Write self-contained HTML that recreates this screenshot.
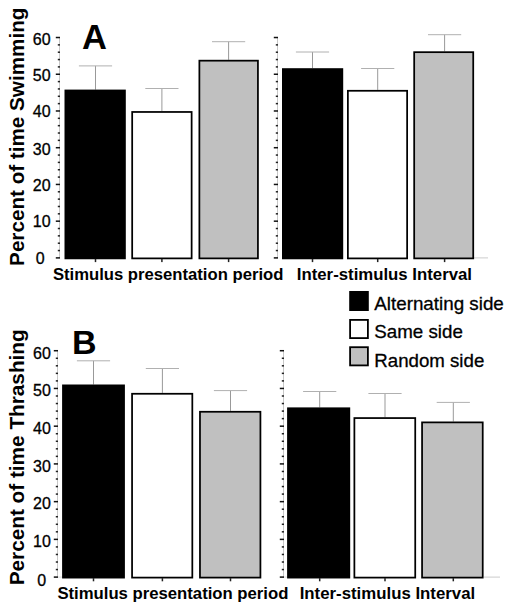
<!DOCTYPE html>
<html><head><meta charset="utf-8"><style>
html,body{margin:0;padding:0;background:#fff;}
svg{display:block;}
text{font-family:"Liberation Sans", sans-serif;fill:#000;}
.r{stroke:#000;stroke-width:0.3px;}
</style></head><body>
<svg width="510" height="609" viewBox="0 0 510 609">
<rect width="510" height="609" fill="#fff"/>
<line x1="474" y1="257.90" x2="488" y2="257.90" stroke="#ccc" stroke-width="1"/>
<line x1="484" y1="577.10" x2="500" y2="577.10" stroke="#ccc" stroke-width="1"/>
<line x1="283" y1="577.10" x2="288" y2="577.10" stroke="#ddd" stroke-width="1"/>
<line x1="58" y1="577.10" x2="63" y2="577.10" stroke="#ddd" stroke-width="1"/>
<line x1="59.5" y1="37.52" x2="59.5" y2="257.90" stroke="#c8c8c8" stroke-width="1"/>
<rect x="55.80" y="257.15" width="4.2" height="1.5" fill="#111"/>
<rect x="57.80" y="249.80" width="2.2" height="1.5" fill="#222"/>
<rect x="57.80" y="242.46" width="2.2" height="1.5" fill="#222"/>
<rect x="57.80" y="235.11" width="2.2" height="1.5" fill="#222"/>
<rect x="57.80" y="227.77" width="2.2" height="1.5" fill="#222"/>
<rect x="55.80" y="220.42" width="4.2" height="1.5" fill="#111"/>
<rect x="57.80" y="213.07" width="2.2" height="1.5" fill="#222"/>
<rect x="57.80" y="205.73" width="2.2" height="1.5" fill="#222"/>
<rect x="57.80" y="198.38" width="2.2" height="1.5" fill="#222"/>
<rect x="57.80" y="191.04" width="2.2" height="1.5" fill="#222"/>
<rect x="55.80" y="183.69" width="4.2" height="1.5" fill="#111"/>
<rect x="57.80" y="176.34" width="2.2" height="1.5" fill="#222"/>
<rect x="57.80" y="169.00" width="2.2" height="1.5" fill="#222"/>
<rect x="57.80" y="161.65" width="2.2" height="1.5" fill="#222"/>
<rect x="57.80" y="154.31" width="2.2" height="1.5" fill="#222"/>
<rect x="55.80" y="146.96" width="4.2" height="1.5" fill="#111"/>
<rect x="57.80" y="139.61" width="2.2" height="1.5" fill="#222"/>
<rect x="57.80" y="132.27" width="2.2" height="1.5" fill="#222"/>
<rect x="57.80" y="124.92" width="2.2" height="1.5" fill="#222"/>
<rect x="57.80" y="117.58" width="2.2" height="1.5" fill="#222"/>
<rect x="55.80" y="110.23" width="4.2" height="1.5" fill="#111"/>
<rect x="57.80" y="102.88" width="2.2" height="1.5" fill="#222"/>
<rect x="57.80" y="95.54" width="2.2" height="1.5" fill="#222"/>
<rect x="57.80" y="88.19" width="2.2" height="1.5" fill="#222"/>
<rect x="57.80" y="80.85" width="2.2" height="1.5" fill="#222"/>
<rect x="55.80" y="73.50" width="4.2" height="1.5" fill="#111"/>
<rect x="57.80" y="66.15" width="2.2" height="1.5" fill="#222"/>
<rect x="57.80" y="58.81" width="2.2" height="1.5" fill="#222"/>
<rect x="57.80" y="51.46" width="2.2" height="1.5" fill="#222"/>
<rect x="57.80" y="44.12" width="2.2" height="1.5" fill="#222"/>
<rect x="55.80" y="36.77" width="4.2" height="1.5" fill="#111"/>
<line x1="277.5" y1="37.52" x2="277.5" y2="257.90" stroke="#c8c8c8" stroke-width="1"/>
<rect x="273.80" y="257.15" width="4.2" height="1.5" fill="#111"/>
<rect x="275.80" y="249.80" width="2.2" height="1.5" fill="#222"/>
<rect x="275.80" y="242.46" width="2.2" height="1.5" fill="#222"/>
<rect x="275.80" y="235.11" width="2.2" height="1.5" fill="#222"/>
<rect x="275.80" y="227.77" width="2.2" height="1.5" fill="#222"/>
<rect x="273.80" y="220.42" width="4.2" height="1.5" fill="#111"/>
<rect x="275.80" y="213.07" width="2.2" height="1.5" fill="#222"/>
<rect x="275.80" y="205.73" width="2.2" height="1.5" fill="#222"/>
<rect x="275.80" y="198.38" width="2.2" height="1.5" fill="#222"/>
<rect x="275.80" y="191.04" width="2.2" height="1.5" fill="#222"/>
<rect x="273.80" y="183.69" width="4.2" height="1.5" fill="#111"/>
<rect x="275.80" y="176.34" width="2.2" height="1.5" fill="#222"/>
<rect x="275.80" y="169.00" width="2.2" height="1.5" fill="#222"/>
<rect x="275.80" y="161.65" width="2.2" height="1.5" fill="#222"/>
<rect x="275.80" y="154.31" width="2.2" height="1.5" fill="#222"/>
<rect x="273.80" y="146.96" width="4.2" height="1.5" fill="#111"/>
<rect x="275.80" y="139.61" width="2.2" height="1.5" fill="#222"/>
<rect x="275.80" y="132.27" width="2.2" height="1.5" fill="#222"/>
<rect x="275.80" y="124.92" width="2.2" height="1.5" fill="#222"/>
<rect x="275.80" y="117.58" width="2.2" height="1.5" fill="#222"/>
<rect x="273.80" y="110.23" width="4.2" height="1.5" fill="#111"/>
<rect x="275.80" y="102.88" width="2.2" height="1.5" fill="#222"/>
<rect x="275.80" y="95.54" width="2.2" height="1.5" fill="#222"/>
<rect x="275.80" y="88.19" width="2.2" height="1.5" fill="#222"/>
<rect x="275.80" y="80.85" width="2.2" height="1.5" fill="#222"/>
<rect x="273.80" y="73.50" width="4.2" height="1.5" fill="#111"/>
<rect x="275.80" y="66.15" width="2.2" height="1.5" fill="#222"/>
<rect x="275.80" y="58.81" width="2.2" height="1.5" fill="#222"/>
<rect x="275.80" y="51.46" width="2.2" height="1.5" fill="#222"/>
<rect x="275.80" y="44.12" width="2.2" height="1.5" fill="#222"/>
<rect x="273.80" y="36.77" width="4.2" height="1.5" fill="#111"/>
<line x1="57.5" y1="350.72" x2="57.5" y2="577.10" stroke="#c8c8c8" stroke-width="1"/>
<rect x="53.80" y="576.35" width="4.2" height="1.5" fill="#111"/>
<rect x="55.80" y="568.80" width="2.2" height="1.5" fill="#222"/>
<rect x="55.80" y="561.26" width="2.2" height="1.5" fill="#222"/>
<rect x="55.80" y="553.71" width="2.2" height="1.5" fill="#222"/>
<rect x="55.80" y="546.17" width="2.2" height="1.5" fill="#222"/>
<rect x="53.80" y="538.62" width="4.2" height="1.5" fill="#111"/>
<rect x="55.80" y="531.07" width="2.2" height="1.5" fill="#222"/>
<rect x="55.80" y="523.53" width="2.2" height="1.5" fill="#222"/>
<rect x="55.80" y="515.98" width="2.2" height="1.5" fill="#222"/>
<rect x="55.80" y="508.44" width="2.2" height="1.5" fill="#222"/>
<rect x="53.80" y="500.89" width="4.2" height="1.5" fill="#111"/>
<rect x="55.80" y="493.34" width="2.2" height="1.5" fill="#222"/>
<rect x="55.80" y="485.80" width="2.2" height="1.5" fill="#222"/>
<rect x="55.80" y="478.25" width="2.2" height="1.5" fill="#222"/>
<rect x="55.80" y="470.71" width="2.2" height="1.5" fill="#222"/>
<rect x="53.80" y="463.16" width="4.2" height="1.5" fill="#111"/>
<rect x="55.80" y="455.61" width="2.2" height="1.5" fill="#222"/>
<rect x="55.80" y="448.07" width="2.2" height="1.5" fill="#222"/>
<rect x="55.80" y="440.52" width="2.2" height="1.5" fill="#222"/>
<rect x="55.80" y="432.98" width="2.2" height="1.5" fill="#222"/>
<rect x="53.80" y="425.43" width="4.2" height="1.5" fill="#111"/>
<rect x="55.80" y="417.88" width="2.2" height="1.5" fill="#222"/>
<rect x="55.80" y="410.34" width="2.2" height="1.5" fill="#222"/>
<rect x="55.80" y="402.79" width="2.2" height="1.5" fill="#222"/>
<rect x="55.80" y="395.25" width="2.2" height="1.5" fill="#222"/>
<rect x="53.80" y="387.70" width="4.2" height="1.5" fill="#111"/>
<rect x="55.80" y="380.15" width="2.2" height="1.5" fill="#222"/>
<rect x="55.80" y="372.61" width="2.2" height="1.5" fill="#222"/>
<rect x="55.80" y="365.06" width="2.2" height="1.5" fill="#222"/>
<rect x="55.80" y="357.52" width="2.2" height="1.5" fill="#222"/>
<rect x="53.80" y="349.97" width="4.2" height="1.5" fill="#111"/>
<line x1="283.5" y1="350.72" x2="283.5" y2="577.10" stroke="#c8c8c8" stroke-width="1"/>
<rect x="279.80" y="576.35" width="4.2" height="1.5" fill="#111"/>
<rect x="281.80" y="568.80" width="2.2" height="1.5" fill="#222"/>
<rect x="281.80" y="561.26" width="2.2" height="1.5" fill="#222"/>
<rect x="281.80" y="553.71" width="2.2" height="1.5" fill="#222"/>
<rect x="281.80" y="546.17" width="2.2" height="1.5" fill="#222"/>
<rect x="279.80" y="538.62" width="4.2" height="1.5" fill="#111"/>
<rect x="281.80" y="531.07" width="2.2" height="1.5" fill="#222"/>
<rect x="281.80" y="523.53" width="2.2" height="1.5" fill="#222"/>
<rect x="281.80" y="515.98" width="2.2" height="1.5" fill="#222"/>
<rect x="281.80" y="508.44" width="2.2" height="1.5" fill="#222"/>
<rect x="279.80" y="500.89" width="4.2" height="1.5" fill="#111"/>
<rect x="281.80" y="493.34" width="2.2" height="1.5" fill="#222"/>
<rect x="281.80" y="485.80" width="2.2" height="1.5" fill="#222"/>
<rect x="281.80" y="478.25" width="2.2" height="1.5" fill="#222"/>
<rect x="281.80" y="470.71" width="2.2" height="1.5" fill="#222"/>
<rect x="279.80" y="463.16" width="4.2" height="1.5" fill="#111"/>
<rect x="281.80" y="455.61" width="2.2" height="1.5" fill="#222"/>
<rect x="281.80" y="448.07" width="2.2" height="1.5" fill="#222"/>
<rect x="281.80" y="440.52" width="2.2" height="1.5" fill="#222"/>
<rect x="281.80" y="432.98" width="2.2" height="1.5" fill="#222"/>
<rect x="279.80" y="425.43" width="4.2" height="1.5" fill="#111"/>
<rect x="281.80" y="417.88" width="2.2" height="1.5" fill="#222"/>
<rect x="281.80" y="410.34" width="2.2" height="1.5" fill="#222"/>
<rect x="281.80" y="402.79" width="2.2" height="1.5" fill="#222"/>
<rect x="281.80" y="395.25" width="2.2" height="1.5" fill="#222"/>
<rect x="279.80" y="387.70" width="4.2" height="1.5" fill="#111"/>
<rect x="281.80" y="380.15" width="2.2" height="1.5" fill="#222"/>
<rect x="281.80" y="372.61" width="2.2" height="1.5" fill="#222"/>
<rect x="281.80" y="365.06" width="2.2" height="1.5" fill="#222"/>
<rect x="281.80" y="357.52" width="2.2" height="1.5" fill="#222"/>
<rect x="279.80" y="349.97" width="4.2" height="1.5" fill="#111"/>
<line x1="95.5" y1="65.90" x2="95.5" y2="89.60" stroke="#999" stroke-width="1"/>
<line x1="78.90" y1="65.90" x2="112.10" y2="65.90" stroke="#b0b0b0" stroke-width="1"/>
<rect x="65.38" y="90.47" width="59.55" height="167.92" fill="#000" stroke="#000" stroke-width="1.75"/>
<rect x="94.75" y="258.90" width="1.5" height="3.2" fill="#222"/>
<line x1="161.9" y1="88.50" x2="161.9" y2="111.10" stroke="#999" stroke-width="1"/>
<line x1="145.30" y1="88.50" x2="178.50" y2="88.50" stroke="#b0b0b0" stroke-width="1"/>
<rect x="132.18" y="111.97" width="59.45" height="146.42" fill="#fff" stroke="#000" stroke-width="1.75"/>
<rect x="161.15" y="258.90" width="1.5" height="3.2" fill="#222"/>
<line x1="228.6" y1="41.70" x2="228.6" y2="59.80" stroke="#999" stroke-width="1"/>
<line x1="212.00" y1="41.70" x2="245.20" y2="41.70" stroke="#b0b0b0" stroke-width="1"/>
<rect x="199.38" y="60.67" width="58.55" height="197.72" fill="#c0c0c0" stroke="#000" stroke-width="1.75"/>
<rect x="227.85" y="258.90" width="1.5" height="3.2" fill="#222"/>
<line x1="312.5" y1="52.00" x2="312.5" y2="68.20" stroke="#999" stroke-width="1"/>
<line x1="295.90" y1="52.00" x2="329.10" y2="52.00" stroke="#b0b0b0" stroke-width="1"/>
<rect x="282.88" y="69.08" width="59.45" height="189.32" fill="#000" stroke="#000" stroke-width="1.75"/>
<rect x="311.75" y="258.90" width="1.5" height="3.2" fill="#222"/>
<line x1="377.7" y1="68.50" x2="377.7" y2="89.90" stroke="#999" stroke-width="1"/>
<line x1="361.10" y1="68.50" x2="394.30" y2="68.50" stroke="#b0b0b0" stroke-width="1"/>
<rect x="347.88" y="90.78" width="59.25" height="167.62" fill="#fff" stroke="#000" stroke-width="1.75"/>
<rect x="376.95" y="258.90" width="1.5" height="3.2" fill="#222"/>
<line x1="444.6" y1="34.70" x2="444.6" y2="51.30" stroke="#999" stroke-width="1"/>
<line x1="428.00" y1="34.70" x2="461.20" y2="34.70" stroke="#b0b0b0" stroke-width="1"/>
<rect x="414.18" y="52.17" width="59.05" height="206.22" fill="#c0c0c0" stroke="#000" stroke-width="1.75"/>
<rect x="443.85" y="258.90" width="1.5" height="3.2" fill="#222"/>
<line x1="93.5" y1="360.80" x2="93.5" y2="384.50" stroke="#999" stroke-width="1"/>
<line x1="76.90" y1="360.80" x2="110.10" y2="360.80" stroke="#b0b0b0" stroke-width="1"/>
<rect x="62.98" y="385.38" width="61.05" height="192.23" fill="#000" stroke="#000" stroke-width="1.75"/>
<rect x="92.75" y="578.10" width="1.5" height="3.2" fill="#222"/>
<line x1="162.4" y1="368.50" x2="162.4" y2="392.90" stroke="#999" stroke-width="1"/>
<line x1="145.80" y1="368.50" x2="179.00" y2="368.50" stroke="#b0b0b0" stroke-width="1"/>
<rect x="132.07" y="393.77" width="60.25" height="183.83" fill="#fff" stroke="#000" stroke-width="1.75"/>
<rect x="161.65" y="578.10" width="1.5" height="3.2" fill="#222"/>
<line x1="230.5" y1="390.60" x2="230.5" y2="410.90" stroke="#999" stroke-width="1"/>
<line x1="213.90" y1="390.60" x2="247.10" y2="390.60" stroke="#b0b0b0" stroke-width="1"/>
<rect x="199.97" y="411.77" width="60.45" height="165.83" fill="#c0c0c0" stroke="#000" stroke-width="1.75"/>
<rect x="229.75" y="578.10" width="1.5" height="3.2" fill="#222"/>
<line x1="319.7" y1="391.50" x2="319.7" y2="407.40" stroke="#999" stroke-width="1"/>
<line x1="303.10" y1="391.50" x2="336.30" y2="391.50" stroke="#b0b0b0" stroke-width="1"/>
<rect x="287.98" y="408.27" width="61.35" height="169.33" fill="#000" stroke="#000" stroke-width="1.75"/>
<rect x="318.95" y="578.10" width="1.5" height="3.2" fill="#222"/>
<line x1="385.0" y1="393.50" x2="385.0" y2="417.20" stroke="#999" stroke-width="1"/>
<line x1="368.40" y1="393.50" x2="401.60" y2="393.50" stroke="#b0b0b0" stroke-width="1"/>
<rect x="354.38" y="418.07" width="60.85" height="159.53" fill="#fff" stroke="#000" stroke-width="1.75"/>
<rect x="384.25" y="578.10" width="1.5" height="3.2" fill="#222"/>
<line x1="453.3" y1="402.40" x2="453.3" y2="421.50" stroke="#999" stroke-width="1"/>
<line x1="436.70" y1="402.40" x2="469.90" y2="402.40" stroke="#b0b0b0" stroke-width="1"/>
<rect x="422.07" y="422.38" width="60.65" height="155.23" fill="#c0c0c0" stroke="#000" stroke-width="1.75"/>
<rect x="452.55" y="578.10" width="1.5" height="3.2" fill="#222"/>
<rect x="350.1" y="291.90" width="17.8" height="18.2" fill="#000" stroke="#000" stroke-width="1.8"/>
<rect x="350.1" y="319.90" width="17.8" height="18.2" fill="#fff" stroke="#000" stroke-width="1.8"/>
<rect x="350.1" y="347.20" width="17.8" height="18.2" fill="#c0c0c0" stroke="#000" stroke-width="1.8"/>
<text x="40.3" y="263.90" text-anchor="middle" font-size="16" class="r">0</text>
<text x="41.6" y="585.65" text-anchor="middle" font-size="16" class="r">0</text>
<text x="50.6" y="226.65" text-anchor="end" font-size="16" class="r">10</text>
<text x="50.8" y="546.65" text-anchor="end" font-size="16" class="r">10</text>
<text x="50.6" y="190.65" text-anchor="end" font-size="16" class="r">20</text>
<text x="50.8" y="509.35" text-anchor="end" font-size="16" class="r">20</text>
<text x="50.6" y="154.55" text-anchor="end" font-size="16" class="r">30</text>
<text x="50.8" y="472.05" text-anchor="end" font-size="16" class="r">30</text>
<text x="50.6" y="116.65" text-anchor="end" font-size="16" class="r">40</text>
<text x="50.8" y="433.55" text-anchor="end" font-size="16" class="r">40</text>
<text x="50.6" y="80.75" text-anchor="end" font-size="16" class="r">50</text>
<text x="50.8" y="396.35" text-anchor="end" font-size="16" class="r">50</text>
<text x="50.6" y="44.75" text-anchor="end" font-size="16" class="r">60</text>
<text x="50.8" y="358.75" text-anchor="end" font-size="16" class="r">60</text>
<text x="82" y="48.6" font-size="34.5" font-weight="bold">A</text>
<text x="72" y="353.7" font-size="34" font-weight="bold">B</text>
<text x="52.9" y="279.8" font-size="16" font-weight="bold" textLength="230.5" lengthAdjust="spacingAndGlyphs">Stimulus presentation period</text>
<text x="296.8" y="280.2" font-size="16" font-weight="bold" textLength="175.2" lengthAdjust="spacingAndGlyphs">Inter-stimulus Interval</text>
<text x="57.4" y="599.2" font-size="16" font-weight="bold" textLength="231" lengthAdjust="spacingAndGlyphs">Stimulus presentation period</text>
<text x="299.7" y="599.4" font-size="16" font-weight="bold" textLength="175.5" lengthAdjust="spacingAndGlyphs">Inter-stimulus Interval</text>
<text transform="translate(23.8,265.9) rotate(-90)" font-size="20.5" font-weight="bold" textLength="258.3" lengthAdjust="spacingAndGlyphs">Percent of time Swimming</text>
<text transform="translate(23.8,585.3) rotate(-90)" font-size="20.5" font-weight="bold" textLength="256" lengthAdjust="spacingAndGlyphs">Percent of time Thrashing</text>
<text x="374.3" y="309.8" font-size="18.5" class="r" textLength="129.5" lengthAdjust="spacingAndGlyphs">Alternating side</text>
<text x="374.3" y="338.3" font-size="18.5" class="r" textLength="88.5" lengthAdjust="spacingAndGlyphs">Same side</text>
<text x="374.3" y="366.5" font-size="18.5" class="r" textLength="110" lengthAdjust="spacingAndGlyphs">Random side</text>
</svg>
</body></html>
